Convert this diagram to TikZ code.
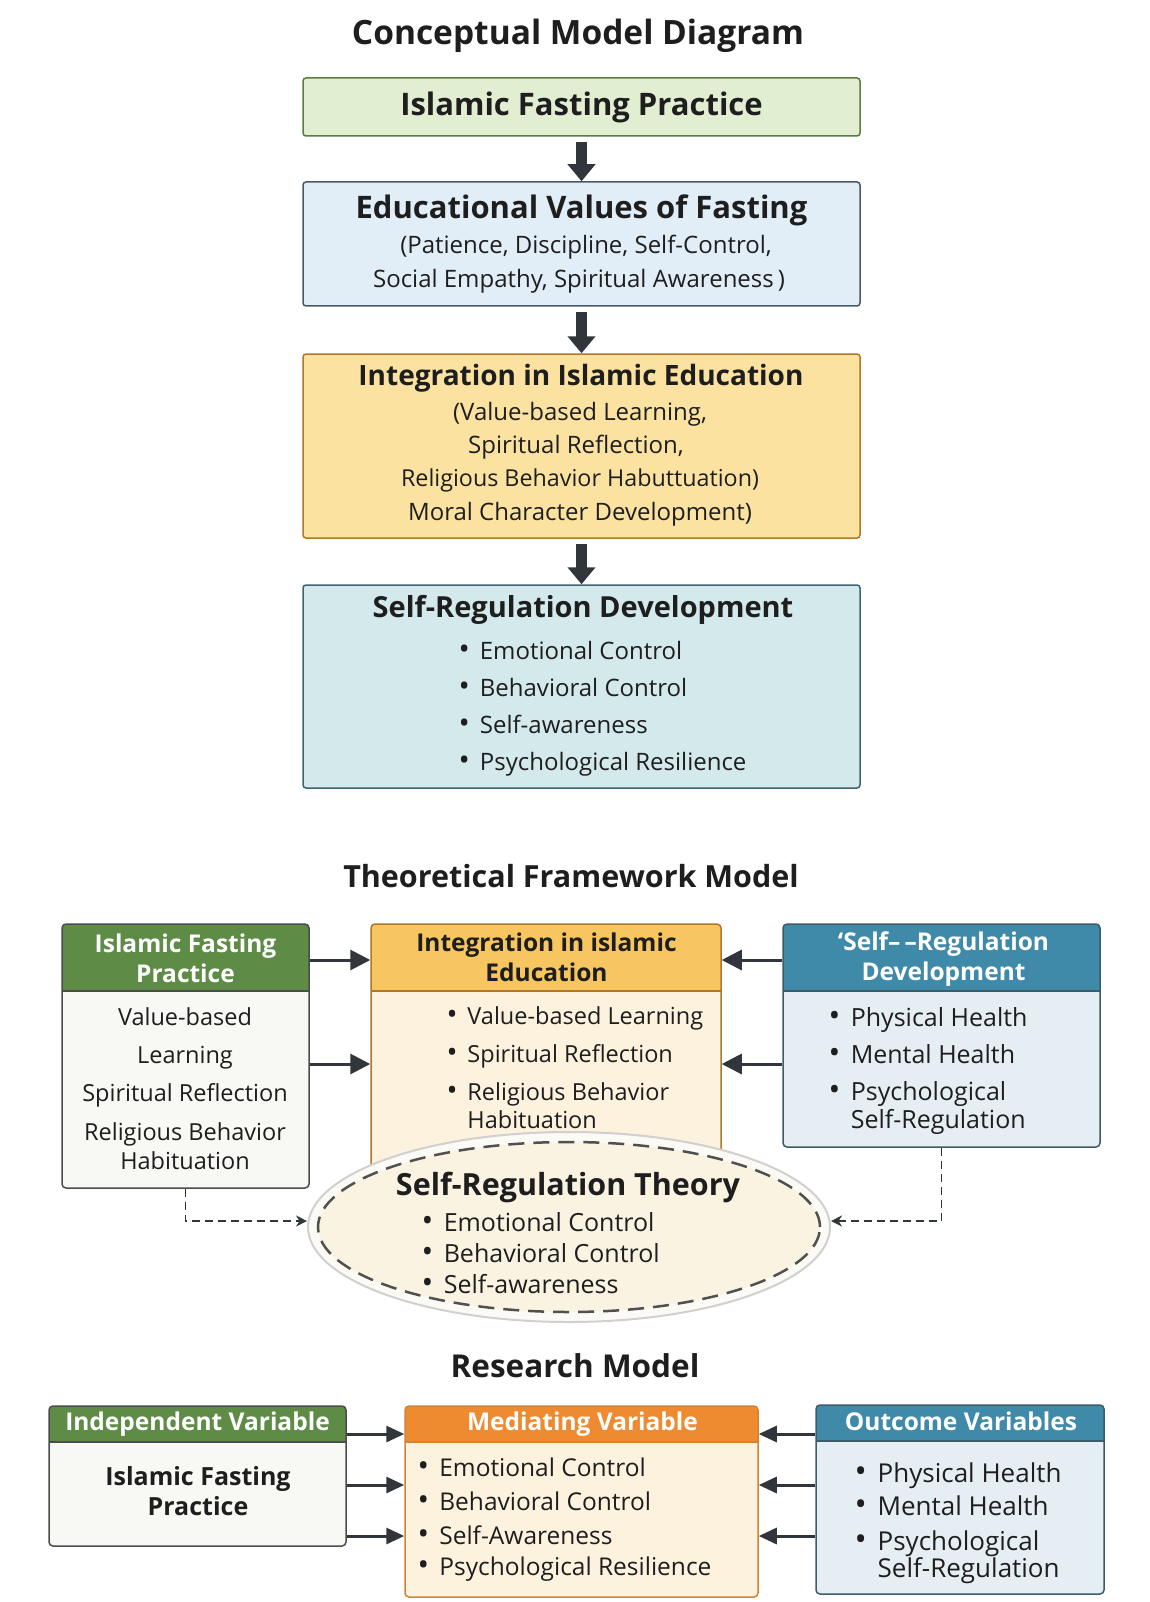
\documentclass[tikz,border=0pt]{standalone}
\usepackage{fontspec}
\usepackage{graphicx}
\setmainfont{Open Sans}
\usetikzlibrary{arrows.meta, shapes.geometric}

\definecolor{txt}{HTML}{1E1E1E}
\definecolor{arr}{HTML}{30363B}
\definecolor{gfill}{HTML}{E2EED2}
\definecolor{gline}{HTML}{5A7E42}
\definecolor{bfill}{HTML}{E1EDF7}
\definecolor{bline}{HTML}{4B5866}
\definecolor{yfill}{HTML}{FBE2A1}
\definecolor{yline}{HTML}{AE772C}
\definecolor{tfill}{HTML}{D3E9EC}
\definecolor{tline}{HTML}{3E6470}
\definecolor{hgreen}{HTML}{5E8C47}
\definecolor{hyellow}{HTML}{F7C661}
\definecolor{horange}{HTML}{EE8A2F}
\definecolor{hblue}{HTML}{3E8AA8}
\definecolor{wbody}{HTML}{F8F8F5}
\definecolor{cbody}{HTML}{FDF2DD}
\definecolor{lbody}{HTML}{E5EEF3}
\definecolor{kline}{HTML}{4C4C4C}
\definecolor{oline}{HTML}{D0843A}
\definecolor{pline}{HTML}{3F5A68}
\definecolor{efill}{HTML}{FAF3E2}
\definecolor{ehalo}{HTML}{FCFAF4}
\definecolor{eedge}{HTML}{D0D0D0}
\definecolor{edash}{HTML}{505050}

\newcommand{\bul}{\raisebox{0.02em}{\scalebox{1.25}{•}}\hspace{0.42em}}

\begin{document}
\begin{tikzpicture}[x=1pt, y=-1pt,
    ttl/.style={font=\fontsize{31}{36}\selectfont\bfseries, text=txt},
    boxhead/.style={font=\fontsize{31}{36}\selectfont\bfseries, text=txt},
    boxtxt/.style={font=\fontsize{24}{29}\selectfont, text=txt},
    hdrtxt/.style={font=\fontsize{24.5}{30}\selectfont\bfseries, align=center},
    smallhdr/.style={font=\fontsize{24.5}{29}\selectfont\bfseries, text=white},
    bodytxt/.style={font=\fontsize{23.5}{28}\selectfont, text=txt},
    bigtxt/.style={font=\fontsize{25}{30}\selectfont, text=txt},
    flowbox/.style 2 args={draw=#2, fill=#1, line width=1.5pt, rounded corners=3pt,
        minimum width=557pt, inner sep=0pt},
    panel/.style n args={4}{draw=#3, fill=#2, line width=1.5pt, rounded corners=4pt, inner sep=0pt,
        path picture={
          \fill[#1, sharp corners] (path picture bounding box.north west)
              rectangle ([yshift=-#4]path picture bounding box.north east);
          \draw[#3, line width=1.5pt, sharp corners] ([yshift=-#4]path picture bounding box.north west)
              -- ([yshift=-#4]path picture bounding box.north east);
        }},
    fatarrow/.style={draw=arr, line width=11pt, shorten <=5pt, -{Triangle[width=27pt,length=17pt]}},
    linkarrow/.style={draw=arr, line width=3pt, -{Triangle[width=20pt,length=20pt]}},
    smallarrow/.style={draw=arr, line width=3pt, -{Triangle[width=16pt,length=18pt]}},
    dasharrow/.style={draw=arr, line width=1.8pt, dash pattern=on 8pt off 5pt,
        -{Stealth[length=11pt,width=11pt]}},
  ]

    \def\cx{581.5}   % centre of the upper column

    % Page
    \fill[white] (0,0) rectangle (1150,1602);
    \useasboundingbox (0,0) rectangle (1150,1602);

    % Conceptual model diagram
    \node[ttl, font=\fontsize{33.5}{40}\selectfont\bfseries] (ttlA) at (578,36) {Conceptual Model Diagram};

    \node[flowbox={gfill}{gline}, minimum height=58pt, boxhead] (fast) at (\cx,107) {Islamic Fasting Practice};
    \node[flowbox={bfill}{bline}, minimum height=124pt] (vals) at (\cx,244) {};
    \node[flowbox={yfill}{yline}, minimum height=184pt] (integ) at (\cx,446) {};
    \node[flowbox={tfill}{tline}, minimum height=203pt] (sreg) at (\cx,686.5) {};

    \draw[fatarrow] (fast) -- (vals);
    \draw[fatarrow] (vals) -- (integ);
    \draw[fatarrow] (integ) -- (sreg);

    \node[boxhead, anchor=mid] (valsA) at (\cx,216) {Educational Values of Fasting};
    \node[boxtxt, anchor=mid] (valsB) at (586,251) {(Patience, Discipline, Self-Control,};
    \node[boxtxt, anchor=mid] (valsC) at (579,285) {Social Empathy, Spiritual Awareness\,)};

    \node[boxhead, font=\fontsize{28}{34}\selectfont\bfseries, anchor=mid] (integA) at (581,383) {Integration in Islamic Education};
    \node[boxtxt, anchor=mid] (integB) at (580,418) {(Value-based Learning,};
    \node[boxtxt, anchor=mid] (integC) at (576,451) {Spiritual Reflection,};
    \node[boxtxt, font=\fontsize{23.3}{28}\selectfont, anchor=mid] (integD) at (580,484) {Religious Behavior Habuttuation)};
    \node[boxtxt, anchor=mid] (integE) at (580,518) {Moral Character Development)};

    \node[boxhead, font=\fontsize{29}{34}\selectfont\bfseries, anchor=mid] (sregA) at (583,615) {Self-Regulation Development};
    \node[boxtxt, anchor=mid west] (sregB) at (455,657) {\bul Emotional Control};
    \node[boxtxt, anchor=mid west] (sregC) at (455,694) {\bul Behavioral Control};
    \node[boxtxt, anchor=mid west] (sregD) at (455,731) {\bul Self-awareness};
    \node[boxtxt, anchor=mid west] (sregE) at (455,768) {\bul Psychological Resilience};

    % Theoretical framework model
    \node[ttl, font=\fontsize{30.5}{36}\selectfont\bfseries] (ttlB) at (571,876) {Theoretical Framework Model};

    \coordinate (ra) at (0,960);
    \coordinate (rb) at (0,1064);

    \node[panel={hgreen}{wbody}{kline}{67pt}, minimum width=247pt, minimum height=264pt] (tfL) at (185.5,1056) {};
    \node[panel={hyellow}{cbody}{yline}{67pt}, minimum width=350pt, minimum height=276pt] (tfM) at (546,1062) {};
    \node[panel={hblue}{lbody}{pline}{67pt}, minimum width=317pt, minimum height=223pt] (tfR) at (941.5,1035.5) {};

    \node[hdrtxt, text=white] (tfLh) at (185.5,958) {Islamic Fasting\\Practice};
    \node[hdrtxt, text=txt] (tfMh) at (546.5,957) {Integration in islamic\\Education};
    \node[hdrtxt, text=white] (tfRh) at (943.5,959) {‘Self–\,–Regulation\\Development};

    \node[bodytxt, anchor=mid] (tfL1) at (185,1023) {Value-based};
    \node[bodytxt, anchor=mid] (tfL2) at (185,1061) {Learning};
    \node[bodytxt, anchor=mid] (tfL3) at (185,1099) {Spiritual Reflection};
    \node[bodytxt, anchor=mid] (tfL4) at (185,1138) {Religious Behavior};
    \node[bodytxt, anchor=mid] (tfL5) at (185,1167) {Habituation};

    \node[bodytxt, anchor=mid west] (tfM1) at (443,1022) {\bul Value-based Learning};
    \node[bodytxt, anchor=mid west] (tfM2) at (443,1060) {\bul Spiritual Reflection};
    \node[bodytxt, anchor=mid west] (tfM3) at (443,1098) {\bul Religious Behavior};
    \node[bodytxt, anchor=mid west] (tfM4) at (443,1126) {\phantom{\bul}Habituation};

    \node[bigtxt, anchor=mid west] (tfR1) at (825,1024) {\bul Physical Health};
    \node[bigtxt, anchor=mid west] (tfR2) at (825,1061) {\bul Mental Health};
    \node[bigtxt, anchor=mid west] (tfR3) at (825,1098) {\bul Psychological};
    \node[bigtxt, anchor=mid west] (tfR4) at (825,1126) {\phantom{\bul}Self-Regulation};

    \draw[linkarrow] (tfL.east |- ra) -- (tfM.west |- ra);
    \draw[linkarrow] (tfL.east |- rb) -- (tfM.west |- rb);
    \draw[linkarrow] (tfR.west |- ra) -- (tfM.east |- ra);
    \draw[linkarrow] (tfR.west |- rb) -- (tfM.east |- rb);

    % Self-regulation theory
    \node[ellipse, draw=eedge, line width=2pt, fill=ehalo, minimum width=522pt, minimum height=190pt] (srtH) at (569,1227) {};
    \node[ellipse, draw=edash, line width=2.5pt, dash pattern=on 16pt off 9pt, fill=efill,
          minimum width=502pt, minimum height=170pt] (srt) at (569,1227) {};

    \node[font=\fontsize{30.5}{36}\selectfont\bfseries, text=txt, anchor=mid] (srtA) at (568,1193) {Self-Regulation Theory};
    \node[bigtxt, anchor=mid west] (srtB) at (418,1229) {\bul Emotional Control};
    \node[bigtxt, anchor=mid west] (srtC) at (418,1260) {\bul Behavioral Control};
    \node[bigtxt, anchor=mid west] (srtD) at (418,1291) {\bul Self-awareness};

    \draw[dasharrow] (tfL.south) |- ([yshift=6pt]srtH.west);
    \draw[dasharrow] (tfR.south) |- ([yshift=6pt]srtH.east);

    % Research model
    \node[ttl, font=\fontsize{31.5}{36}\selectfont\bfseries] (ttlC) at (575,1366) {Research Model};

    \coordinate (sa) at (0,1434);
    \coordinate (sb) at (0,1485);
    \coordinate (sc) at (0,1536);

    \node[panel={hgreen}{wbody}{kline}{36pt}, minimum width=297pt, minimum height=140pt] (rmL) at (197.5,1476) {};
    \node[panel={horange}{cbody}{oline}{36pt}, minimum width=353pt, minimum height=191pt] (rmM) at (581.5,1501.5) {};
    \node[panel={hblue}{lbody}{pline}{36pt}, minimum width=288pt, minimum height=189pt] (rmR) at (960,1499.5) {};

    \node[smallhdr, anchor=mid] (rmLh) at (197.5,1428) {Independent Variable};
    \node[smallhdr, anchor=mid] (rmMh) at (582.5,1428) {Mediating Variable};
    \node[smallhdr, anchor=mid] (rmRh) at (961,1428) {Outcome Variables};

    \node[hdrtxt, font=\fontsize{25}{30}\selectfont\bfseries, text=txt] (rmL1) at (198,1491) {Islamic Fasting\\Practice};

    \node[bodytxt, font=\fontsize{24.5}{29}\selectfont, anchor=mid west] (rmM1) at (414,1474) {\bul Emotional Control};
    \node[bodytxt, font=\fontsize{24.5}{29}\selectfont, anchor=mid west] (rmM2) at (414,1508) {\bul Behavioral Control};
    \node[bodytxt, font=\fontsize{24.5}{29}\selectfont, anchor=mid west] (rmM3) at (414,1542) {\bul Self-Awareness};
    \node[bodytxt, font=\fontsize{24.5}{29}\selectfont, anchor=mid west] (rmM4) at (414,1573) {\bul Psychological Resilience};

    \node[bigtxt, font=\fontsize{26}{31}\selectfont, anchor=mid west] (rmR1) at (851,1480) {\bul Physical Health};
    \node[bigtxt, font=\fontsize{26}{31}\selectfont, anchor=mid west] (rmR2) at (851,1513) {\bul Mental Health};
    \node[bigtxt, font=\fontsize{26}{31}\selectfont, anchor=mid west] (rmR3) at (851,1548) {\bul Psychological};
    \node[bigtxt, font=\fontsize{26}{31}\selectfont, anchor=mid west] (rmR4) at (851,1575) {\phantom{\bul}Self-Regulation};

    \draw[smallarrow] (rmL.east |- sa) -- (rmM.west |- sa);
    \draw[smallarrow] (rmL.east |- sb) -- (rmM.west |- sb);
    \draw[smallarrow] (rmL.east |- sc) -- (rmM.west |- sc);
    \draw[smallarrow] (rmR.west |- sa) -- (rmM.east |- sa);
    \draw[smallarrow] (rmR.west |- sb) -- (rmM.east |- sb);
    \draw[smallarrow] (rmR.west |- sc) -- (rmM.east |- sc);

\end{tikzpicture}
\end{document}
